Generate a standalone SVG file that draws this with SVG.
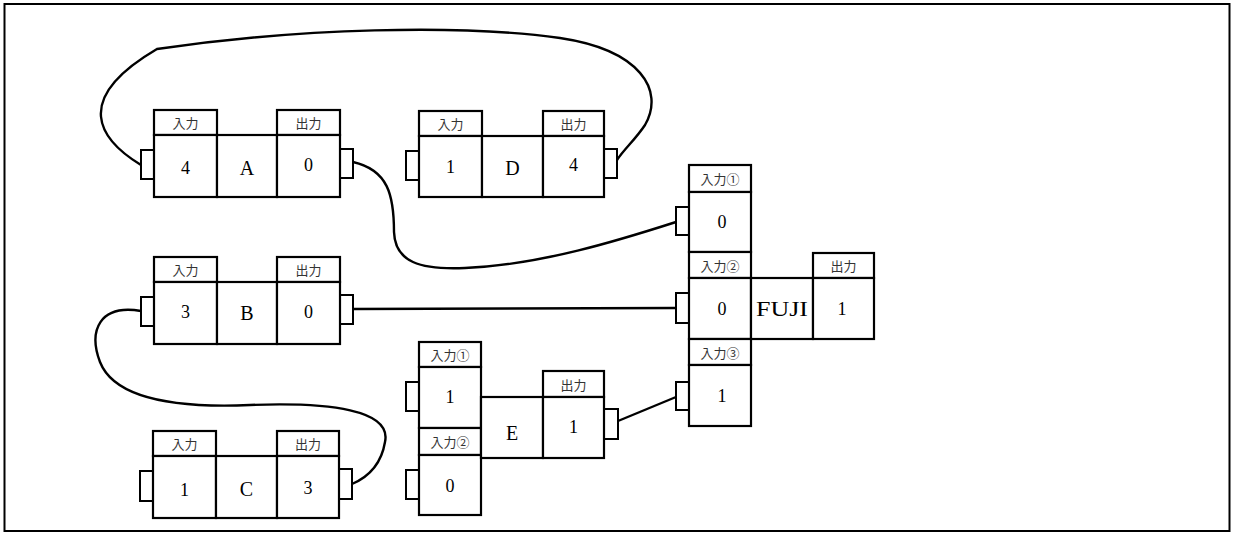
<svg xmlns="http://www.w3.org/2000/svg" width="1233" height="534" viewBox="0 0 1233 534">
<style>
.b{fill:#fff;stroke:#000;stroke-width:2.2}
.p{fill:#fff;stroke:#000;stroke-width:2}
.c{fill:none;stroke:#000;stroke-width:2.4}
.h{font-family:"Noto Sans CJK JP","Liberation Sans",sans-serif;font-size:13px;fill:#333;text-anchor:middle;dominant-baseline:central}
.v{font-family:"Liberation Serif","Noto Sans CJK JP",serif;font-size:18px;fill:#000;text-anchor:middle;dominant-baseline:central}
.n{font-family:"Liberation Serif","Noto Sans CJK JP",serif;font-size:20px;fill:#000;text-anchor:middle;dominant-baseline:central}
</style>
<rect x="4.5" y="4" width="1225" height="527" fill="#fff" stroke="#000" stroke-width="2"/>
<g id="connectors">
<path class="c" d="M141,165 C100,140 70,100 157,49 C300,28 460,24 560,38 C640,50 665,90 645,125 C635,140 625,148 617,160"/>
<path class="c" d="M353,162 C388,170 394,195 394,232 C395,262 420,270 465,268 C540,265 620,240 676,222"/>
<path class="c" d="M353,309 L676,308"/>
<path class="c" d="M141,311 C100,304 88,330 100,362 C115,400 180,408 250,405 C330,402 392,410 385,442 C381,466 366,478 352,484"/>
<path class="c" d="M618,421 L676,397"/>
</g>
<g id="nodeA">
<rect class="p" x="141" y="150" width="13" height="29"/>
<rect class="p" x="340" y="149" width="13" height="29"/>
<rect class="b" x="154" y="110" width="63" height="25"/>
<rect class="b" x="277" y="110" width="63" height="25"/>
<rect class="b" x="154" y="135" width="63" height="62"/>
<rect class="b" x="217" y="135" width="60" height="62"/>
<rect class="b" x="277" y="135" width="63" height="62"/>
<text class="h" x="185.5" y="122.5">入力</text>
<text class="h" x="308.5" y="122.5">出力</text>
<text class="v" x="185.5" y="168">4</text>
<text class="n" x="247" y="168">A</text>
<text class="v" x="308.5" y="165">0</text>
</g>
<g id="nodeD">
<rect class="p" x="406" y="151" width="13" height="29"/>
<rect class="p" x="604" y="149" width="13" height="29"/>
<rect class="b" x="419" y="111" width="63" height="25"/>
<rect class="b" x="543" y="111" width="61" height="25"/>
<rect class="b" x="419" y="136" width="63" height="61"/>
<rect class="b" x="482" y="136" width="61" height="61"/>
<rect class="b" x="543" y="136" width="61" height="61"/>
<text class="h" x="450.5" y="123.5">入力</text>
<text class="h" x="573.5" y="123.5">出力</text>
<text class="v" x="450.5" y="167">1</text>
<text class="n" x="512.5" y="168">D</text>
<text class="v" x="573.5" y="165">4</text>
</g>
<g id="nodeB">
<rect class="p" x="141" y="297" width="13" height="29"/>
<rect class="p" x="340" y="295" width="13" height="29"/>
<rect class="b" x="154" y="257" width="63" height="25"/>
<rect class="b" x="277" y="257" width="63" height="25"/>
<rect class="b" x="154" y="282" width="63" height="62"/>
<rect class="b" x="217" y="282" width="60" height="62"/>
<rect class="b" x="277" y="282" width="63" height="62"/>
<text class="h" x="185.5" y="269.5">入力</text>
<text class="h" x="308.5" y="269.5">出力</text>
<text class="v" x="185.5" y="312">3</text>
<text class="n" x="247" y="313">B</text>
<text class="v" x="308.5" y="312">0</text>
</g>
<g id="nodeC">
<rect class="p" x="140" y="471" width="13" height="30"/>
<rect class="p" x="339" y="469" width="13" height="30"/>
<rect class="b" x="153" y="431" width="63" height="25"/>
<rect class="b" x="277" y="431" width="62" height="25"/>
<rect class="b" x="153" y="456" width="63" height="62"/>
<rect class="b" x="216" y="456" width="61" height="62"/>
<rect class="b" x="277" y="456" width="62" height="62"/>
<text class="h" x="184.5" y="443.5">入力</text>
<text class="h" x="308" y="443.5">出力</text>
<text class="v" x="184.5" y="490">1</text>
<text class="n" x="246.5" y="489">C</text>
<text class="v" x="308" y="488">3</text>
</g>
<g id="nodeE">
<rect class="p" x="406" y="382" width="13" height="29"/>
<rect class="p" x="406" y="470" width="13" height="29"/>
<rect class="p" x="604" y="409" width="14" height="30"/>
<rect class="b" x="419" y="342" width="62" height="25"/>
<rect class="b" x="419" y="367" width="62" height="61"/>
<rect class="b" x="419" y="428" width="62" height="27"/>
<rect class="b" x="419" y="455" width="62" height="60"/>
<rect class="b" x="481" y="397" width="62" height="61"/>
<rect class="b" x="543" y="371" width="61" height="26"/>
<rect class="b" x="543" y="397" width="61" height="61"/>
<text class="h" x="450" y="354.5">入力①</text>
<text class="h" x="450" y="441.5">入力②</text>
<text class="h" x="573.5" y="384">出力</text>
<text class="v" x="450" y="397">1</text>
<text class="n" x="512" y="433">E</text>
<text class="v" x="573.5" y="427">1</text>
<text class="v" x="450" y="486">0</text>
</g>
<g id="nodeFUJI">
<rect class="p" x="676" y="207" width="13" height="28"/>
<rect class="p" x="676" y="293" width="13" height="30"/>
<rect class="p" x="676" y="382" width="13" height="28"/>
<rect class="b" x="689" y="165" width="62" height="27"/>
<rect class="b" x="689" y="192" width="62" height="60"/>
<rect class="b" x="689" y="252" width="62" height="26"/>
<rect class="b" x="689" y="278" width="62" height="61"/>
<rect class="b" x="689" y="339" width="62" height="26"/>
<rect class="b" x="689" y="365" width="62" height="61"/>
<rect class="b" x="751" y="278" width="62" height="61"/>
<rect class="b" x="813" y="253" width="61" height="25"/>
<rect class="b" x="813" y="278" width="61" height="61"/>
<text class="h" x="720" y="178.5">入力①</text>
<text class="h" x="720" y="265">入力②</text>
<text class="h" x="720" y="352">入力③</text>
<text class="h" x="843.5" y="265.5">出力</text>
<text class="v" x="722" y="222">0</text>
<text class="v" x="722" y="309">0</text>
<text class="n" x="782" y="309" textLength="52" lengthAdjust="spacingAndGlyphs">FUJI</text>
<text class="v" x="842" y="309">1</text>
<text class="v" x="722" y="396">1</text>
</g>
</svg>
